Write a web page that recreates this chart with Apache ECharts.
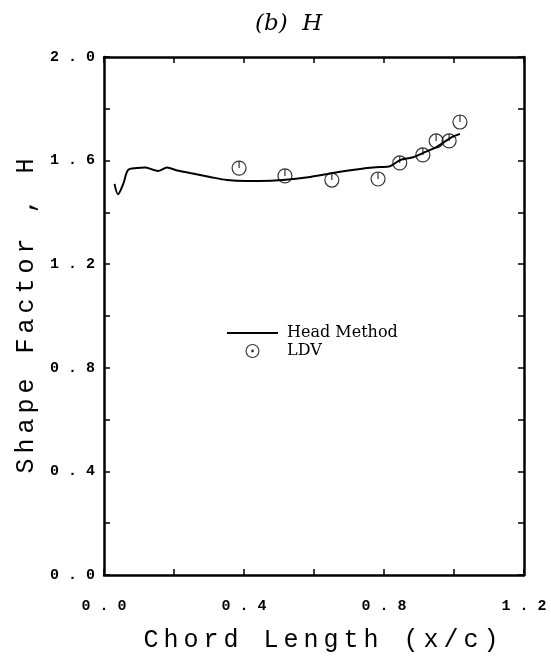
<!DOCTYPE html>
<html>
<head>
<meta charset="utf-8">
<script src="https://cdn.jsdelivr.net/npm/echarts@6/dist/echarts.min.js"></script>
<style>
  html, body {margin: 0; padding: 0; background: #fff;}
  #chart {width: 551px; height: 659px;}
</style>
</head>
<body>
<div id="chart"></div>
<script>
// Head Method curve (x/c, H)
const headX = [0.030, 0.040, 0.055, 0.069, 0.094, 0.117, 0.140, 0.154, 0.180, 0.209, 0.246, 0.303, 0.351, 0.409, 0.446, 0.511, 0.589, 0.654, 0.751, 0.789, 0.817, 0.846, 0.880, 0.911, 0.951, 0.989, 1.017]
const headY = [1.510, 1.470, 1.510, 1.564, 1.571, 1.573, 1.565, 1.560, 1.573, 1.562, 1.552, 1.537, 1.525, 1.521, 1.521, 1.525, 1.537, 1.552, 1.571, 1.575, 1.578, 1.602, 1.612, 1.629, 1.653, 1.687, 1.703]

// LDV measurements
const ldvX = [0.386, 0.517, 0.651, 0.783, 0.845, 0.911, 0.949, 0.986, 1.017]
const ldvY = [1.571, 1.541, 1.525, 1.529, 1.591, 1.622, 1.676, 1.676, 1.749]

// labelled ticks
const xTickLabels = ["0 . 0", "0 . 4", "0 . 8", "1 . 2"]
const yTickLabels = ["0 . 0", "0 . 4", "0 . 8", "1 . 2", "1 . 6", "2 . 0"]

const zip = (xs, ys) => xs.map((x, i) => [x, ys[i]])
const tickLabel = labels => v => {
  const k = Math.round(v * 10)
  return k % 4 === 0 ? labels[k / 4] : ""
}
// the old plotter spaces its letters out; give each glyph a fixed cell
const spaced = text => text.split("").map(ch => `{c|${ch}}`).join("")

const monoFont = "'Liberation Mono', 'DejaVu Sans Mono', monospace"
const serifFont = "'DejaVu Serif', 'Liberation Serif', serif"
const frame = {show: true, onZero: false, lineStyle: {color: "#000", width: 2.5}}
const ticks = {show: true, inside: true, length: 6, lineStyle: {color: "#000", width: 1.5}}
const nameCell = {fontFamily: monoFont, fontSize: 25, width: 20, align: "center"}

const circleTick = "path://M0,-10A10,10,0,1,1,-0.01,-10ZM0,-10L0,0"
const circleDot = "path://M0,-10A10,10,0,1,1,-0.01,-10ZM0,-8.4A8.4,8.4,0,1,0,0.01,-8.4ZM0,-2A2,2,0,1,1,-0.01,-2Z"
const dash = "path://M0,0H51V2H0Z"

const chart = echarts.init(document.getElementById("chart"))
chart.setOption({
  animation: false,
  backgroundColor: "#fff",
  title: {
    text: "(b)  H",
    left: 250,
    top: 8,
    textStyle: {fontFamily: serifFont, fontStyle: "italic", fontWeight: "normal", fontSize: 23, color: "#000"},
  },
  grid: {left: 104, right: 27, top: 57, bottom: 84},
  legend: {
    left: 222,
    top: 320,
    orient: "vertical",
    itemWidth: 51,
    itemHeight: 14,
    itemGap: 2,
    textStyle: {fontFamily: serifFont, fontSize: 16, color: "#000", padding: [0, 0, 0, 4]},
    data: [
      {name: "Head Method", icon: dash, itemStyle: {color: "#000", borderWidth: 0}},
      {name: "LDV", icon: circleDot, itemStyle: {color: "#000", borderWidth: 0}},
    ],
  },
  xAxis: [
    {
      type: "value", min: 0, max: 1.2, interval: 0.2, position: "bottom",
      name: spaced("Chord Length (x/c)"), nameLocation: "middle", nameGap: 53,
      nameTextStyle: {fontFamily: monoFont, fontSize: 25, color: "#000", padding: [0, 0, 0, 14], rich: {c: nameCell}},
      axisLine: frame, axisTick: ticks, splitLine: {show: false},
      axisLabel: {formatter: tickLabel(xTickLabels), margin: 24, fontFamily: monoFont, fontWeight: "bold", fontSize: 15, color: "#000"},
    },
    {
      type: "value", min: 0, max: 1.2, interval: 0.2, position: "top",
      axisLine: frame, axisTick: ticks, splitLine: {show: false}, axisLabel: {show: false},
    },
  ],
  yAxis: [
    {
      type: "value", min: 0, max: 2.0, interval: 0.2, position: "left",
      name: spaced("Shape Factor , H"), nameLocation: "middle", nameGap: 62,
      nameTextStyle: {fontFamily: monoFont, fontSize: 25, color: "#000", rich: {c: nameCell}},
      axisLine: frame, axisTick: ticks, splitLine: {show: false},
      axisLabel: {formatter: tickLabel(yTickLabels), margin: 9, fontFamily: monoFont, fontWeight: "bold", fontSize: 15, color: "#000"},
    },
    {
      type: "value", min: 0, max: 2.0, interval: 0.2, position: "right",
      axisLine: frame, axisTick: ticks, splitLine: {show: false}, axisLabel: {show: false},
    },
  ],
  series: [
    {
      name: "Head Method",
      type: "line",
      data: zip(headX, headY),
      smooth: 0.3,
      symbol: "none",
      lineStyle: {color: "#000", width: 2},
      itemStyle: {color: "#000"},
    },
    {
      name: "LDV",
      type: "scatter",
      data: zip(ldvX, ldvY),
      symbol: circleTick,
      symbolSize: 14,
      itemStyle: {color: "rgba(0,0,0,0)", borderColor: "#000", borderWidth: 1.2},
    },
    {
      // keeps the top and right frame axes alive
      name: "frame",
      type: "scatter",
      xAxisIndex: 1,
      yAxisIndex: 1,
      data: [],
      silent: true,
    },
  ],
})
</script>
</body>
</html>
